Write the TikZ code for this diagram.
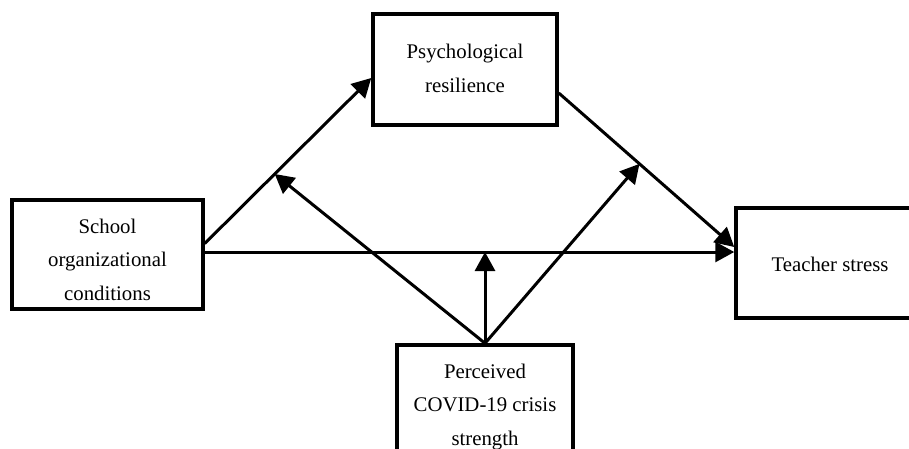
\documentclass[tikz,border=0pt]{standalone}
\usepackage{fontspec}
\setmainfont{Liberation Serif}
\usetikzlibrary{arrows.meta}

\begin{document}
\begin{tikzpicture}[x=1pt,y=-1pt,
            var/.style={draw=black, line width=3.5pt, align=center, inner sep=0pt,
                font=\fontsize{20.8}{33.5}\selectfont},
            eff/.style={-{Triangle[length=19pt,width=20pt]}, line width=3pt}]
        \path[use as bounding box, clip] (0,0) rectangle (909,448);

        \node[var, minimum width=191pt, text height=100pt, text depth=9pt] (soc) at (107.5,254.5)
            {School\\organizational\\conditions};
        \node[var, minimum width=184pt, text height=78pt, text depth=33pt] (psy) at (465,69.5)
            {Psychological\\resilience};
        \node[var, minimum width=188pt, text height=63pt, text depth=47pt] (ts) at (830,263)
            {Teacher stress};
        \node[var, minimum width=176pt, text height=100pt, text depth=20pt] (cov) at (485,405)
            {Perceived\\COVID-19 crisis\\strength};

        % direct and indirect paths
        \draw[eff] ([yshift=11pt]soc.east) -- node[pos=0.42, coordinate] (m1) {}
            ([yshift=-8.5pt]psy.west);
        \draw[eff] ([yshift=-23.5pt]psy.east) -- node[pos=0.46, coordinate] (m3) {}
            ([yshift=16pt]ts.west);
        \draw[eff] ([yshift=2.5pt]soc.east) -- node[pos=0.5, coordinate] (m2) {}
            ([yshift=11pt]ts.west);

        % moderation
        \draw[eff] (cov.north) -- (m1);
        \draw[eff] (cov.north) -- (cov.north |- m2);
        \draw[eff] (cov.north) -- (m3);
\end{tikzpicture}
\end{document}
